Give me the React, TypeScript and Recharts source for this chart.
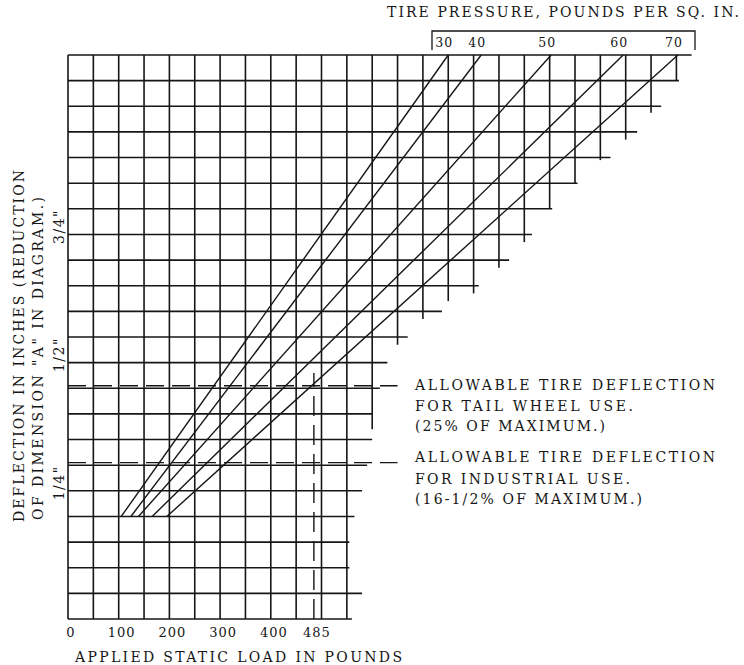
import React from "react"
import { ComposedChart, Line, XAxis, YAxis, ReferenceLine, LabelList } from "recharts"

// tire pressure curves: load (lbs) at 0.2" deflection and at the top of the chart (1.1")
const psiLabels = ["30", "40", "50", "60", "70"]
const loadAtStart = [105, 124, 139, 166, 195]
const loadAtTop = [750, 815, 953, 1095, 1203]
const startDeflection = 0.2
const topDeflection = 1.1

const loadTicks = [0, 100, 200, 300, 400, 485]
const deflectionTicks = [0.25, 0.5, 0.75]
const deflectionTickLabels = ['1/4"', '1/2"', '3/4"']

// grid squares are 50 lbs wide and 0.05" high, cut in a staircase at the upper right
const colStep = 50
const rowStep = 0.05
// right end of each horizontal rule (in columns), bottom rule first
const rowEnds = [
  11.2, 11.6, 11.1, 11.1, 11.3, 11.6, 11.8, 12.0, 12.0, 12.3, 12.6, 13.4,
  14.75, 16.2, 17.4, 18.3, 19.1, 20.1, 21.4, 22.45, 23.4, 24.1, 24.6,
]
// lower end of each vertical rule (in rows), left column first
const colBottoms = [
  0, 0, 0, 0, 0, 0, 0, 0, 0, 0, 0, 0, 7.4, 10.7, 11.7, 12.4, 12.7, 13.7, 14.7,
  16.0, 17.0, 17.9, 18.7, 19.75, 21.0,
]

const tailWheelLimit = 0.455
const industrialLimit = 0.305
const limitLineEnd = 650
const maxLoad = 485
const maxLoadTop = 0.48

const ink = "#161616"
const font = "'DejaVu Serif', 'Liberation Serif', serif"

const pressureSeries = psiLabels.map((psi, i) => ({
  psi,
  points: [
    { x: loadAtStart[i], y: startDeflection, psi: "" },
    { x: loadAtTop[i], y: topDeflection, psi },
  ],
}))

const LoadTick = ({ x, y, payload }: any) => (
  <text x={x + 3} y={y + 18} textAnchor="middle" fontSize={13} fontFamily={font} fill={ink} letterSpacing={1}>
    {payload.value}
  </text>
)

const DeflectionTick = ({ x, y, payload }: any) => {
  const i = deflectionTicks.indexOf(payload.value)
  const cx = x - 4
  const cy = y - 8
  return (
    <text
      x={cx}
      y={cy}
      transform={`rotate(-90, ${cx}, ${cy})`}
      textAnchor="middle"
      fontSize={14}
      fontFamily={font}
      fill={ink}
      letterSpacing={1.5}
    >
      {deflectionTickLabels[i]}
    </text>
  )
}

const PsiLabel = ({ x, y, value }: any) =>
  value ? (
    <text x={x - 4} y={y - 8} textAnchor="middle" fontSize={12.5} fontFamily={font} fill={ink} letterSpacing={1}>
      {value}
    </text>
  ) : null

const textProps = { fontFamily: font, fill: ink, fontSize: 14, lengthAdjust: "spacing" as const }

export default function App() {
  return (
    <div style={{ position: "absolute", left: 0, top: 0, width: 744, height: 665, background: "#fff" }}>
      <ComposedChart width={744} height={665} margin={{ top: 55, right: 42.25, bottom: 0, left: 0 }}>
        <XAxis
          dataKey="x"
          type="number"
          domain={[0, 1250]}
          ticks={loadTicks}
          height={46}
          axisLine={false}
          tickLine={false}
          tickSize={0}
          tickMargin={0}
          tick={<LoadTick />}
          interval={0}
        />
        <YAxis
          type="number"
          domain={[0, 1.1]}
          ticks={deflectionTicks}
          width={68}
          axisLine={false}
          tickLine={false}
          tickSize={0}
          tickMargin={0}
          tick={<DeflectionTick />}
          interval={0}
        />

        {rowEnds.map((end, j) => (
          <ReferenceLine
            key={`h${j}`}
            segment={[
              { x: 0, y: j * rowStep },
              { x: end * colStep, y: j * rowStep },
            ]}
            stroke={ink}
            strokeWidth={1.6}
            ifOverflow="visible"
          />
        ))}
        {colBottoms.map((bottom, n) => (
          <ReferenceLine
            key={`v${n}`}
            segment={[
              { x: n * colStep, y: bottom * rowStep },
              { x: n * colStep, y: topDeflection },
            ]}
            stroke={ink}
            strokeWidth={1.6}
            ifOverflow="visible"
          />
        ))}

        <ReferenceLine
          segment={[
            { x: 0, y: tailWheelLimit },
            { x: limitLineEnd, y: tailWheelLimit },
          ]}
          stroke={ink}
          strokeWidth={1.4}
          strokeDasharray="18 8"
          ifOverflow="visible"
        />
        <ReferenceLine
          segment={[
            { x: 0, y: industrialLimit },
            { x: limitLineEnd, y: industrialLimit },
          ]}
          stroke={ink}
          strokeWidth={1.4}
          strokeDasharray="18 8"
          ifOverflow="visible"
        />
        <ReferenceLine
          segment={[
            { x: maxLoad, y: 0 },
            { x: maxLoad, y: maxLoadTop },
          ]}
          stroke={ink}
          strokeWidth={1.4}
          strokeDasharray="20 9"
          ifOverflow="visible"
        />

        {pressureSeries.map((s) => (
          <Line
            key={s.psi}
            data={s.points}
            dataKey="y"
            stroke={ink}
            strokeWidth={1.4}
            dot={false}
            activeDot={false}
            isAnimationActive={false}
          >
            <LabelList dataKey="psi" content={<PsiLabel />} />
          </Line>
        ))}
      </ComposedChart>

      <svg width={744} height={665} style={{ position: "absolute", left: 0, top: 0, pointerEvents: "none" }}>
        <text x={387} y={17} textLength={352} {...textProps}>
          TIRE PRESSURE, POUNDS PER SQ. IN.
        </text>
        <path d="M432,50 V31 H695 V50" fill="none" stroke={ink} strokeWidth={1.3} />

        <text x={24} y={522} textLength={352} transform="rotate(-90, 24, 522)" {...textProps}>
          DEFLECTION IN INCHES (REDUCTION
        </text>
        <text x={43} y={520} textLength={323} transform="rotate(-90, 43, 520)" {...textProps}>
          OF DIMENSION "A" IN DIAGRAM.)
        </text>

        <text x={415} y={390} textLength={300} {...textProps}>ALLOWABLE TIRE DEFLECTION</text>
        <text x={415} y={411} textLength={218} {...textProps}>FOR TAIL WHEEL USE.</text>
        <text x={415} y={431} textLength={190} {...textProps}>(25% OF MAXIMUM.)</text>

        <text x={415} y={462} textLength={300} {...textProps}>ALLOWABLE TIRE DEFLECTION</text>
        <text x={415} y={484} textLength={215} {...textProps}>FOR INDUSTRIAL USE.</text>
        <text x={415} y={504} textLength={227} {...textProps}>(16-1/2% OF MAXIMUM.)</text>

        <text x={75} y={662} textLength={327} {...textProps}>
          APPLIED STATIC LOAD IN POUNDS
        </text>
      </svg>
    </div>
  )
}
